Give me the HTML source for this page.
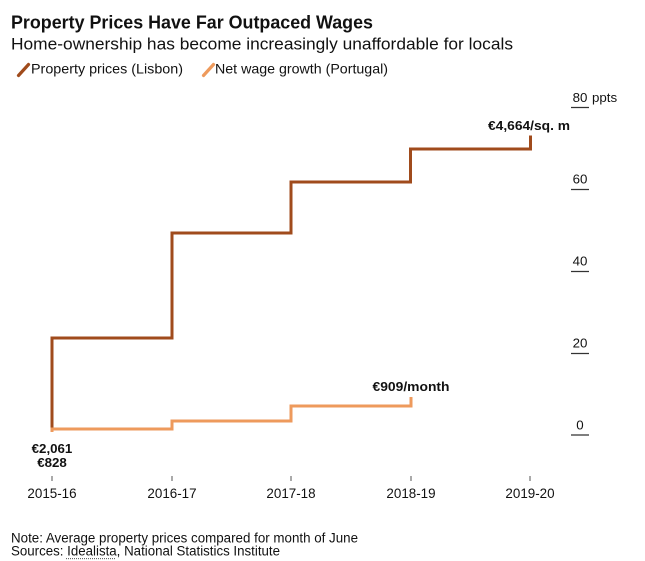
<!DOCTYPE html>
<html>
<head>
<meta charset="utf-8">
<style>
  html, body { margin:0; padding:0; background:#fff; }
  body { width:645px; height:561px; overflow:hidden; }
  svg { display:block; }
  text { font-family: "Liberation Sans", Arial, sans-serif; fill:#111; }
</style>
</head>
<body>
<svg width="645" height="561" viewBox="0 0 645 561" xmlns="http://www.w3.org/2000/svg">
  <rect width="645" height="561" fill="#fff"/>

  <!-- Title & subtitle -->
  <text x="11" y="28.3" font-size="18" font-weight="bold" textLength="362" lengthAdjust="spacingAndGlyphs">Property Prices Have Far Outpaced Wages</text>
  <text x="11" y="49.3" font-size="16.5" textLength="502" lengthAdjust="spacingAndGlyphs">Home-ownership has become increasingly unaffordable for locals</text>

  <!-- Legend -->
  <line x1="18.5" y1="75.5" x2="28.5" y2="64.5" stroke="#a04b1c" stroke-width="3.2" stroke-linecap="round"/>
  <text x="31" y="73.5" font-size="14" textLength="152" lengthAdjust="spacingAndGlyphs">Property prices (Lisbon)</text>
  <line x1="203.5" y1="75.5" x2="213.5" y2="64.5" stroke="#ee9a5c" stroke-width="3.2" stroke-linecap="round"/>
  <text x="215" y="73.5" font-size="14" textLength="173" lengthAdjust="spacingAndGlyphs">Net wage growth (Portugal)</text>

  <!-- Y axis labels and ticks -->
  <g font-size="13.3" text-anchor="middle">
    <text x="580" y="102">80</text>
    <text x="580" y="183.5">60</text>
    <text x="580" y="265.5">40</text>
    <text x="580" y="347.5">20</text>
    <text x="580" y="429.5">0</text>
  </g>
  <text x="592" y="102" font-size="13.3">ppts</text>
  <g stroke="#333" stroke-width="1.2">
    <line x1="571" y1="107.5" x2="589" y2="107.5"/>
    <line x1="571" y1="189.5" x2="589" y2="189.5"/>
    <line x1="571" y1="271.5" x2="589" y2="271.5"/>
    <line x1="571" y1="353.5" x2="589" y2="353.5"/>
    <line x1="571" y1="435" x2="589" y2="435"/>
  </g>

  <!-- Series -->
  <path d="M52,431 V338 H172 V233 H291 V182 H410.5 V149 H530.5 V135.5" fill="none" stroke="#a04b1c" stroke-width="3"/>
  <path d="M52,432 V429 H172 V421 H291 V406 H411 V397" fill="none" stroke="#ee9a5c" stroke-width="3"/>

  <!-- Annotations -->
  <g font-size="13.3" font-weight="bold" text-anchor="middle">
    <text x="529" y="130" textLength="82" lengthAdjust="spacingAndGlyphs">€4,664/sq. m</text>
    <text x="411" y="391" textLength="77" lengthAdjust="spacingAndGlyphs">€909/month</text>
    <text x="52" y="453">€2,061</text>
    <text x="52" y="467">€828</text>
  </g>

  <!-- X axis ticks and labels -->
  <g stroke="#555" stroke-width="1">
    <line x1="52" y1="476" x2="52" y2="481"/>
    <line x1="172" y1="476" x2="172" y2="481"/>
    <line x1="291" y1="476" x2="291" y2="481"/>
    <line x1="411" y1="476" x2="411" y2="481"/>
    <line x1="530" y1="476" x2="530" y2="481"/>
  </g>
  <g font-size="13.4" text-anchor="middle">
    <text x="52" y="498">2015-16</text>
    <text x="172" y="498">2016-17</text>
    <text x="291" y="498">2017-18</text>
    <text x="411" y="498">2018-19</text>
    <text x="530" y="498">2019-20</text>
  </g>

  <!-- Footnotes -->
  <text x="11" y="542.5" font-size="13.5" textLength="347" lengthAdjust="spacingAndGlyphs">Note: Average property prices compared for month of June</text>
  <text x="11" y="555.7" font-size="13.5" textLength="269" lengthAdjust="spacingAndGlyphs">Sources: Idealista, National Statistics Institute</text>
  <line x1="66" y1="558.7" x2="115" y2="558.7" stroke="#333" stroke-width="0.8" stroke-dasharray="1,1"/>
</svg>
</body>
</html>
